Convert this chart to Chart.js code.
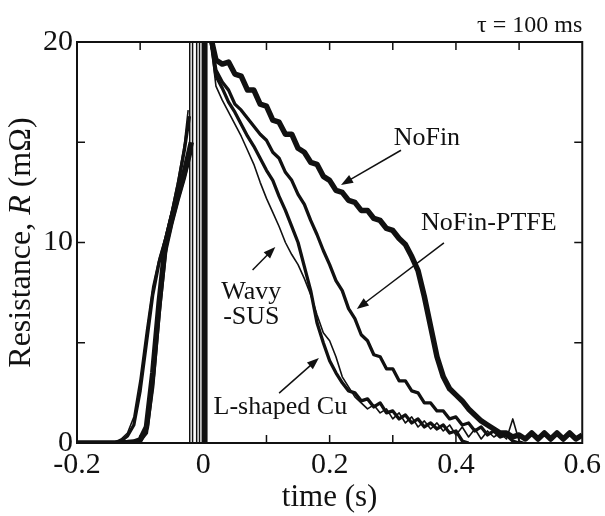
<!DOCTYPE html>
<html>
<head>
<meta charset="utf-8">
<script src="https://cdn.jsdelivr.net/npm/chart.js@4"></script>
<style>
  html, body { margin: 0; padding: 0; background: #fff; }
  #wrap { width: 605px; height: 516px; }
</style>
</head>
<body>
<div id="wrap"><canvas id="resistance-chart"></canvas></div>
<script>
// rise before the discharge (s)
const riseTime = [-0.2, -0.15, -0.14, -0.13, -0.12, -0.11, -0.10, -0.09, -0.08, -0.07, -0.06, -0.05, -0.04, -0.03];
const riseWavy   = [0, 0, 0.05, 0.2, 0.5, 1.3, 3.2, 5.6, 7.8, 9.2, 10.3, 11.6, 13.1, 14.9];
const riseLCu    = [0, 0, 0.02, 0.1, 0.35, 0.9, 2.6, 5.0, 7.4, 9.0, 10.1, 11.4, 12.9, 14.6];
const riseNoFin  = [0, 0, 0, 0, 0.02, 0.05, 0.15, 0.8, 3.5, 7.0, 9.9, 11.2, 12.4, 13.5];
const risePTFE   = [0, 0, 0, 0, 0.01, 0.04, 0.1, 0.5, 2.8, 6.4, 9.5, 10.9, 12.1, 13.2];
// peak just before the spike: [time, value]
const peakWavy  = [-0.024, 16.6];
const peakLCu   = [-0.022, 16.3];
const peakNoFin = [-0.019, 15.0];
const peakPTFE  = [-0.019, 14.6];

// off-scale spikes around t = 0
const spikeTime  = [-0.0215, -0.0215, -0.017, -0.017, -0.0105, -0.0105, -0.006, -0.006];
const spikeValue = [-5, 30, 30, -5, -5, 30, 30, -5];
const spikeThickTime  = [0.002, 0.002];
const spikeThickValue = [-5, 30];

// decay after the discharge
const decayTime = [0.01, 0.02, 0.03, 0.04, 0.05, 0.06, 0.07, 0.08, 0.09, 0.10,
  0.11, 0.12, 0.13, 0.14, 0.15, 0.16, 0.17, 0.18, 0.19, 0.20,
  0.21, 0.22, 0.23, 0.24, 0.25, 0.26, 0.27, 0.28, 0.29, 0.30,
  0.31, 0.32, 0.33, 0.34, 0.35, 0.36, 0.37, 0.38, 0.39, 0.40,
  0.41, 0.42, 0.43, 0.44, 0.45, 0.46, 0.47, 0.48, 0.49, 0.50,
  0.51, 0.52, 0.53, 0.54, 0.55, 0.56, 0.57, 0.58, 0.59, 0.60];
const decayNoFin = [20.5, 19.1, 18.9, 19.0, 18.4, 18.3, 17.6, 17.6, 16.9, 16.8,
  16.1, 16.0, 15.4, 15.4, 14.7, 14.5, 14.0, 13.9, 13.3, 13.1,
  12.6, 12.5, 12.1, 12.0, 11.6, 11.6, 11.2, 11.1, 10.7, 10.6,
  10.2, 9.9, 9.3, 8.6, 7.3, 5.8, 4.3, 3.3, 2.7, 2.4,
  2.1, 1.7, 1.4, 1.1, 0.9, 0.7, 0.5, 0.5, 0.3, 0.4,
  0.2, 0.5, 0.2, 0.5, 0.2, 0.5, 0.2, 0.5, 0.2, 0.4];
const decayPTFE = [20.5, 18.6, 18.0, 17.6, 16.9, 16.6, 16.2, 15.8, 15.4, 15.1,
  14.5, 14.2, 13.5, 13.1, 12.4, 11.9, 11.1, 10.4, 9.6, 8.9,
  8.1, 7.6, 6.7, 6.2, 5.4, 5.1, 4.4, 4.3, 3.7, 3.7,
  3.1, 3.1, 2.6, 2.5, 2.0, 2.0, 1.6, 1.6, 1.2, 1.3,
  0.9, 1.0, 0.6, 0.8, 0.4, 0.6, 0.3, 0.4, 0.1, 0.0,
  null, null, null, null, null, null, null, null, null, null];
const decayLCu = [20.5, 18.3, 17.7, 17.0, 16.5, 15.9, 15.3, 14.8, 14.2, 13.6,
  13.1, 12.3, 11.6, 10.8, 10.0, 8.8, 7.6, 6.0, 5.0, 4.1,
  3.5, 3.0, 2.6, 2.5, 2.1, 2.2, 1.8, 2.0, 1.5, 1.6,
  1.2, 1.4, 1.0, 1.2, 0.8, 1.0, 0.7, 0.9, 0.5, 0.6,
  0.1, 0.0, null, null, null, null, null, null, null, null,
  null, null, null, null, null, null, null, null, null, null];
const decayWavy = [20.5, 17.8, 17.1, 16.5, 15.9, 15.3, 14.6, 13.9, 13.0, 12.2,
  11.5, 10.8, 10.0, 9.4, 8.9, 8.2, 7.4, 6.4, 5.5, 5.1,
  4.3, 3.3, 2.8, 2.3, 2.0, 1.7, 1.9, 1.5, 1.7, 1.2,
  1.5, 1.0, 1.3, 0.8, 1.1, 0.7, 1.0, 0.6, 0.9, 0.4,
  0.8, 0.3, 0.7, 0.2, 0.6, 0.3, 0.5, 0.2, 1.2, 0.1,
  0.0, null, null, null, null, null, null, null, null, null];

// labels with arrows: text, text position, arrow tail, arrow head (data units)
const notes = [
  { lines: ["NoFin"], at: [0.354, 15.2], from: [0.313, 14.6], to: [0.218, 12.87] },
  { lines: ["NoFin-PTFE"], at: [0.452, 10.97], from: [0.381, 9.98], to: [0.243, 6.68] },
  { lines: ["Wavy", "-SUS"], at: [0.076, 6.9], from: [0.078, 8.63], to: [0.114, 9.78] },
  { lines: ["L-shaped Cu"], at: [0.122, 1.8], from: [0.120, 2.49], to: [0.183, 4.24] },
];

function pairs(xs, ys) {
  return xs.map((x, i) => ({ x: x, y: ys[i] }));
}

function buildSeries(rise, peak, decay) {
  return pairs(riseTime, rise)
    .concat([{ x: peak[0], y: peak[1] }, { x: -0.005, y: null }])
    .concat(pairs(decayTime, decay));
}

const serif = "'Liberation Serif', 'Times New Roman', serif";

function lineSet(label, data, width) {
  return {
    label: label,
    data: data,
    borderColor: "#111",
    borderWidth: width,
    pointRadius: 0,
    tension: 0,
    spanGaps: false,
    borderJoinStyle: "round",
  };
}

const frameAndNotes = {
  id: "frameAndNotes",
  afterDatasetsDraw(chart) {
    const ctx = chart.ctx;
    const a = chart.chartArea;
    const xs = chart.scales.x;
    const ys = chart.scales.y;
    ctx.save();
    ctx.strokeStyle = "#111";
    ctx.lineWidth = 2;
    ctx.strokeRect(a.left, a.top, a.right - a.left, a.bottom - a.top);
    // inward ticks on all four sides
    ctx.lineWidth = 1.5;
    ctx.beginPath();
    xs.ticks.forEach(t => {
      const px = xs.getPixelForValue(t.value);
      if (px <= a.left + 1 || px >= a.right - 1) return;
      ctx.moveTo(px, a.bottom); ctx.lineTo(px, a.bottom - 8);
      ctx.moveTo(px, a.top); ctx.lineTo(px, a.top + 8);
    });
    ys.ticks.forEach(t => {
      const py = ys.getPixelForValue(t.value);
      if (py <= a.top + 1 || py >= a.bottom - 1) return;
      ctx.moveTo(a.left, py); ctx.lineTo(a.left + 8, py);
      ctx.moveTo(a.right, py); ctx.lineTo(a.right - 8, py);
    });
    ctx.stroke();

    // annotations
    ctx.fillStyle = "#111";
    ctx.font = "26px " + serif;
    ctx.textAlign = "center";
    ctx.textBaseline = "middle";
    notes.forEach(n => {
      const cx = xs.getPixelForValue(n.at[0]);
      const cy = ys.getPixelForValue(n.at[1]);
      const lh = 25;
      n.lines.forEach((s, i) => {
        ctx.fillText(s, cx, cy + (i - (n.lines.length - 1) / 2) * lh);
      });
      const x1 = xs.getPixelForValue(n.from[0]), y1 = ys.getPixelForValue(n.from[1]);
      const x2 = xs.getPixelForValue(n.to[0]), y2 = ys.getPixelForValue(n.to[1]);
      const ang = Math.atan2(y2 - y1, x2 - x1);
      const hl = 12, hw = 4.5;
      ctx.lineWidth = 1.5;
      ctx.beginPath();
      ctx.moveTo(x1, y1);
      ctx.lineTo(x2 - Math.cos(ang) * hl * 0.8, y2 - Math.sin(ang) * hl * 0.8);
      ctx.stroke();
      ctx.beginPath();
      ctx.moveTo(x2, y2);
      ctx.lineTo(x2 - Math.cos(ang) * hl - Math.sin(ang) * hw, y2 - Math.sin(ang) * hl + Math.cos(ang) * hw);
      ctx.lineTo(x2 - Math.cos(ang) * hl + Math.sin(ang) * hw, y2 - Math.sin(ang) * hl - Math.cos(ang) * hw);
      ctx.closePath();
      ctx.fill();
    });

    // tau label
    ctx.font = "24px " + serif;
    ctx.textAlign = "right";
    ctx.textBaseline = "alphabetic";
    ctx.fillText("\u03c4 = 100 ms", a.right, 32);

    // y axis title with italic R
    const parts = [
      { s: "Resistance, ", f: "32px " + serif },
      { s: "R", f: "italic 32px " + serif },
      { s: " (m\u03a9)", f: "32px " + serif },
    ];
    let total = 0;
    parts.forEach(p => { ctx.font = p.f; p.w = ctx.measureText(p.s).width; total += p.w; });
    ctx.translate(22, (a.top + a.bottom) / 2);
    ctx.rotate(-Math.PI / 2);
    ctx.textAlign = "left";
    ctx.textBaseline = "middle";
    let pos = -total / 2;
    parts.forEach(p => { ctx.font = p.f; ctx.fillText(p.s, pos, 0); pos += p.w; });
    ctx.restore();
  },
};

function fmtX(v) {
  const r = Math.round(v * 10);
  if (r % 2 !== 0) return "";
  return r === 0 ? "0" : String(r / 10);
}

const chart = new Chart(document.getElementById("resistance-chart"), {
  type: "line",
  data: {
    datasets: [
      lineSet("NoFin", buildSeries(riseNoFin, peakNoFin, decayNoFin), 5.5),
      lineSet("NoFin-PTFE", buildSeries(risePTFE, peakPTFE, decayPTFE), 3.3),
      lineSet("L-shaped Cu", buildSeries(riseLCu, peakLCu, decayLCu), 3.3),
      lineSet("Wavy-SUS", buildSeries(riseWavy, peakWavy, decayWavy), 1.6),
      lineSet("spikes", pairs(spikeTime, spikeValue), 1.5),
      lineSet("spike", pairs(spikeThickTime, spikeThickValue), 6),
    ],
  },
  options: {
    responsive: true,
    maintainAspectRatio: false,
    animation: false,
    devicePixelRatio: 1,
    layout: { padding: { top: 42, right: 21, left: 0, bottom: 0 } },
    plugins: { legend: { display: false }, tooltip: { enabled: false } },
    scales: {
      x: {
        type: "linear",
        min: -0.2,
        max: 0.6,
        grid: { display: false, drawTicks: false },
        border: { display: false },
        ticks: {
          stepSize: 0.1,
          autoSkip: false,
          maxRotation: 0,
          padding: 4,
          color: "#111",
          font: { family: serif, size: 30 },
          callback: fmtX,
        },
        title: {
          display: true,
          text: "time (s)",
          color: "#111",
          font: { family: serif, size: 31 },
          padding: { top: 0, bottom: 0 },
        },
        afterFit: s => { s.height = 73; },
      },
      y: {
        min: 0,
        max: 20,
        grid: { display: false, drawTicks: false },
        border: { display: false },
        ticks: {
          stepSize: 5,
          padding: 4,
          color: "#111",
          font: { family: serif, size: 30 },
          callback: v => (v % 10 === 0 ? String(v) : ""),
        },
        afterFit: s => { s.width = 77; },
      },
    },
  },
  plugins: [frameAndNotes],
});
</script>
</body>
</html>
